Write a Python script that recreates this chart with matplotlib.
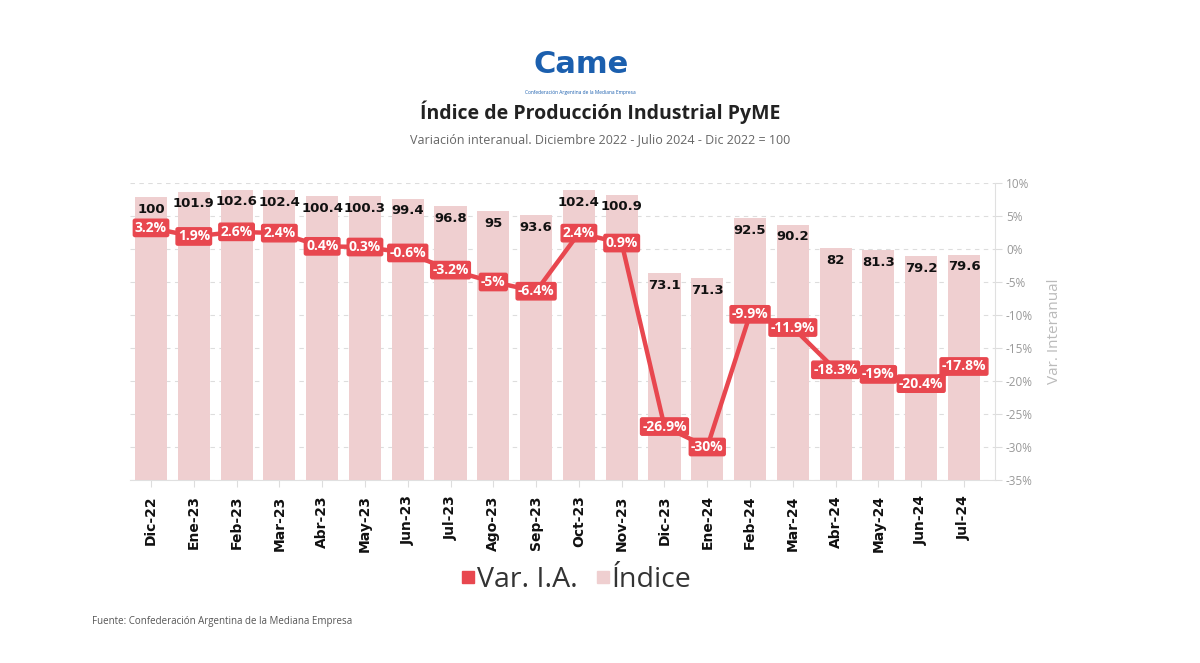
import numpy as np
import matplotlib.pyplot as plt
from matplotlib.lines import Line2D

# Datos
meses = ["Dic-22", "Ene-23", "Feb-23", "Mar-23", "Abr-23", "May-23", "Jun-23",
         "Jul-23", "Ago-23", "Sep-23", "Oct-23", "Nov-23", "Dic-23", "Ene-24",
         "Feb-24", "Mar-24", "Abr-24", "May-24", "Jun-24", "Jul-24"]
indice = [100, 101.9, 102.6, 102.4, 100.4, 100.3, 99.4, 96.8, 95, 93.6,
          102.4, 100.9, 73.1, 71.3, 92.5, 90.2, 82, 81.3, 79.2, 79.6]
var_ia = [3.2, 1.9, 2.6, 2.4, 0.4, 0.3, -0.6, -3.2, -5, -6.4,
          2.4, 0.9, -26.9, -30, -9.9, -11.9, -18.3, -19, -20.4, -17.8]
ticks_pct = [10, 5, 0, -5, -10, -15, -20, -25, -30, -35]

rojo = "#e8474f"
rosa = "#efcfd0"
FONT = "Open Sans"

fig = plt.figure(figsize=(12, 6.63), dpi=100)
ax = fig.add_axes([0.108, 0.276, 0.721, 0.448])
ax2 = ax.twinx()

x = np.arange(len(meses))
ymax_idx = 105
ax.set_ylim(0, ymax_idx)
ax.set_xlim(-0.5, 19.72)
ax2.set_ylim(-35, 10)

# Grilla (detrás de las barras) alineada con el eje derecho
for p in ticks_pct:
    ax.axhline((p + 35) / 45 * ymax_idx, color="#dddddd", lw=0.8,
               ls=(0, (4, 4)), zorder=0)

ax.bar(x, indice, width=0.75, color=rosa, zorder=2)
for xi, v in zip(x, indice):
    ax.annotate(f"{v:g}", (xi, v), xytext=(0, -4), textcoords="offset points",
                ha="center", va="top", fontsize=9.5, fontweight="bold",
                color="#111111", family="DejaVu Sans", zorder=3)

ax.set_yticks([])
ax.set_xticks(x)
ax.set_xticklabels(meses, rotation=90, fontsize=10, fontweight="bold",
                   family="DejaVu Sans", color="#111111")
ax.tick_params(axis="x", length=5, color="#dddddd", pad=6)
for s in ["top", "left", "right"]:
    ax.spines[s].set_visible(False)
ax.spines["bottom"].set_color("#e0e0e0")

# Línea de variación interanual
ax2.plot(x, var_ia, color=rojo, lw=3.2, zorder=5, solid_joinstyle="round")
for xi, v in zip(x, var_ia):
    ax2.text(xi, v, f"{v:g}%", ha="center", va="center", fontsize=10,
             fontweight="bold", color="white", family=FONT, zorder=6,
             bbox=dict(boxstyle="round,pad=0.12", fc=rojo, ec=rojo, lw=1))

ax2.set_yticks(ticks_pct)
ax2.set_yticklabels([f"{t}%" for t in ticks_pct], fontsize=8.5,
                    color="#999999", family=FONT)
ax2.tick_params(axis="y", length=5, color="#dddddd", pad=3)
for s in ["top", "left", "bottom"]:
    ax2.spines[s].set_visible(False)
ax2.spines["right"].set_color("#e0e0e0")
ax2.set_ylabel("Var. Interanual", fontsize=11, color="#bbbbbb",
               family=FONT, labelpad=10)

# Logo y títulos
fig.text(0.484, 0.902, "Came", fontsize=22, fontweight="bold", color="#1b5fae",
         family="DejaVu Sans", ha="center", va="center")
fig.text(0.484, 0.86, "Confederación Argentina de la Mediana Empresa",
         fontsize=3.5, color="#1b5fae", ha="center", va="center", family=FONT)
fig.text(0.5, 0.83, "Índice de Producción Industrial PyME", fontsize=14,
         fontweight="bold", color="#222222", ha="center", va="center", family=FONT)
fig.text(0.5, 0.79, "Variación interanual. Diciembre 2022 - Julio 2024 - Dic 2022 = 100",
         fontsize=9, color="#666666", ha="center", va="center", family=FONT)

# Leyenda
handles = [Line2D([], [], marker="s", ls="", color=rojo, markersize=8),
           Line2D([], [], marker="s", ls="", color=rosa, markersize=8)]
fig.legend(handles, ["Var. I.A.", "Índice"], loc="center", ncol=2,
           bbox_to_anchor=(0.476, 0.125), frameon=False, handletextpad=-0.3,
           columnspacing=0.3, handlelength=1.2,
           prop={"family": FONT, "size": 20.5}, labelcolor="#333333")

fig.text(0.077, 0.062, "Fuente: Confederación Argentina de la Mediana Empresa",
         fontsize=7, color="#555555", family=FONT, va="center")

fig.savefig("out.png", dpi=100, facecolor="white")
